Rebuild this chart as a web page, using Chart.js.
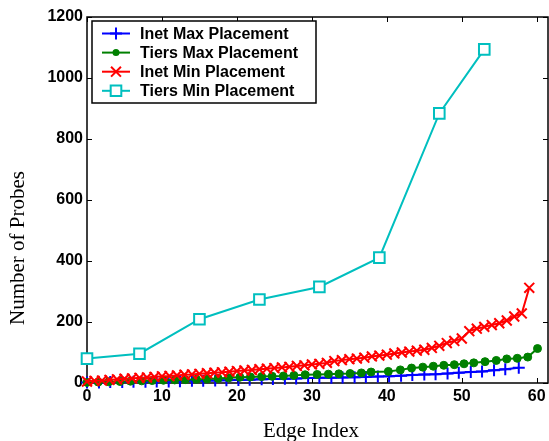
<!DOCTYPE html>
<html>
<head>
<meta charset="utf-8">
<script src="https://cdn.jsdelivr.net/npm/chart.js@4/dist/chart.umd.min.js"></script>
<style>
  body { margin: 0; background: #fff; }
  #wrap { width: 549px; height: 441px; }
</style>
</head>
<body>
<div id="wrap"><canvas id="probes" width="549" height="441"></canvas></div>
<script>
// series labels
const seriesNames = ['Inet Max Placement', 'Tiers Max Placement', 'Inet Min Placement', 'Tiers Min Placement'];

// Inet Max Placement (blue +)
const inetMaxX = [0, 1.6, 3.1, 4.7, 6.2, 7.8, 9.3, 10.9, 12.4, 14, 15.5, 17.1, 18.6, 20.2, 21.7, 23.3, 24.8, 26.4, 27.9, 29.5,
  31, 32.6, 34.1, 35.7, 37.2, 38.8, 40.3, 41.9, 43.4, 45, 46.5, 48.1, 49.6, 51.2, 52.7, 54.3, 55.8, 57.6];
const inetMaxY = [2, 2, 3, 3, 4, 4, 5, 5, 6, 7, 7, 8, 9, 10, 11, 12, 13, 14, 15, 16,
  17, 17, 18, 19, 20, 21, 22, 24, 26, 28, 29, 31, 34, 36, 38, 42, 45, 50];

// Tiers Max Placement (green dots)
const tiersMaxX = [0, 1.5, 2.9, 4.4, 5.8, 7.3, 8.7, 10.2, 11.7, 13.1, 14.6, 16, 17.5, 18.9, 20.4, 21.8, 23.3, 24.7, 26.2, 27.6,
  29.1, 30.7, 32.2, 33.6, 35.1, 36.6, 37.9, 40.2, 41.8, 43.3, 44.8, 46.2, 47.6, 49, 50.3, 51.6, 53.1, 54.6, 56, 57.4, 58.8, 60.1];
const tiersMaxY = [2, 3, 4, 5, 6, 7, 8, 9, 10, 11, 12, 13, 15, 17, 19, 20, 21, 22, 23, 25,
  27, 28, 29, 30, 31, 33, 36, 38, 43, 49, 52, 55, 58, 60, 63, 66, 70, 74, 79, 81, 85, 113];

// Inet Min Placement (red x)
const inetMinX = [0, 1, 2, 3, 4, 5, 6, 7, 8, 9, 10, 11, 12, 13, 14, 15, 16, 17, 18, 19,
  20, 21, 22, 23, 24, 25, 26, 27, 28, 29, 30, 31, 32, 33, 34, 35, 36, 37, 38, 39,
  40, 41, 42, 43, 44, 45, 46, 47, 48, 49, 50, 51, 52, 53, 54, 55, 56, 57, 58, 59];
const inetMinY = [5, 7, 8, 10, 12, 14, 15, 17, 18, 20, 22, 23, 25, 27, 28, 30, 32, 34, 35, 37,
  39, 41, 43, 45, 47, 49, 51, 53, 56, 58, 61, 63, 66, 72, 75, 78, 80, 83, 87, 90,
  93, 97, 100, 103, 106, 109, 115, 122, 131, 138, 146, 170, 178, 184, 190, 196, 205, 218, 228, 312];

// Tiers Min Placement (cyan squares)
const tiersMinX = [0, 7, 15, 23, 31, 39, 47, 53];
const tiersMinY = [80, 96, 209, 274, 315, 411, 884, 1094];

// axis ticks
const xTickValues = [0, 10, 20, 30, 40, 50, 60];
const yTickValues = [0, 200, 400, 600, 800, 1000, 1200];

const toPoints = (xs, ys) => xs.map((x, i) => ({ x: x, y: ys[i] }));

const tickFont = { family: "'Liberation Sans', Arial, sans-serif", size: 16, weight: 'bold' };
const titleFont = "21px 'Liberation Serif', 'Times New Roman', serif";

// box, inward ticks, axis titles and a matlab-like legend
const matlabFrame = {
  id: 'matlabFrame',
  beforeDatasetsDraw(chart) {
    const { ctx, chartArea: a, scales } = chart;
    ctx.save();
    ctx.strokeStyle = '#000';
    ctx.lineWidth = 1.5;
    ctx.strokeRect(a.left, a.top, a.right - a.left, a.bottom - a.top);
    ctx.lineWidth = 1;
    ctx.beginPath();
    xTickValues.forEach(v => {
      const px = Math.round(scales.x.getPixelForValue(v)) + 0.5;
      ctx.moveTo(px, a.bottom); ctx.lineTo(px, a.bottom - 5);
      ctx.moveTo(px, a.top); ctx.lineTo(px, a.top + 5);
    });
    yTickValues.forEach(v => {
      const py = Math.round(scales.y.getPixelForValue(v)) + 0.5;
      ctx.moveTo(a.left, py); ctx.lineTo(a.left + 5, py);
      ctx.moveTo(a.right, py); ctx.lineTo(a.right - 5, py);
    });
    ctx.stroke();

    // axis titles
    ctx.fillStyle = '#000';
    ctx.font = titleFont;
    ctx.textAlign = 'center';
    ctx.textBaseline = 'middle';
    ctx.fillText('Edge Index', 311, 431);
    ctx.translate(18, 248);
    ctx.rotate(-Math.PI / 2);
    ctx.fillText('Number of Probes', 0, 0);
    ctx.restore();
  },
  afterDatasetsDraw(chart) {
    const { ctx } = chart;
    ctx.save();
    ctx.fillStyle = '#fff';
    ctx.fillRect(92, 21, 224, 82);
    ctx.strokeStyle = '#000';
    ctx.lineWidth = 1.5;
    ctx.strokeRect(92, 21, 224, 82);
    chart.data.datasets.forEach((ds, i) => {
      const y = 33.5 + i * 19.1;
      ctx.strokeStyle = ds.borderColor;
      ctx.lineWidth = 2;
      ctx.beginPath();
      ctx.moveTo(102, y); ctx.lineTo(130, y);
      ctx.stroke();
      ctx.fillStyle = ds.pointBackgroundColor;
      ctx.strokeStyle = ds.borderColor;
      Chart.helpers.drawPoint(ctx, {
        pointStyle: ds.pointStyle,
        radius: ds.pointStyle === 'circle' ? 2.5 : ds.pointRadius,
        rotation: 0,
        borderWidth: ds.pointBorderWidth
      }, 116, y);
      ctx.fillStyle = '#000';
      ctx.font = "bold 16px 'Liberation Sans', Arial, sans-serif";
      ctx.textAlign = 'left';
      ctx.textBaseline = 'middle';
      ctx.fillText(ds.label, 140, y + 1);
    });
    ctx.restore();
  }
};

const ctx = document.getElementById('probes').getContext('2d');

new Chart(ctx, {
  type: 'scatter',
  data: {
    datasets: [{
      label: seriesNames[0],
      data: toPoints(inetMaxX, inetMaxY),
      showLine: true,
      borderColor: '#0000ff',
      pointBackgroundColor: '#0000ff',
      borderWidth: 2,
      pointStyle: 'cross',
      pointRadius: 6,
      pointBorderWidth: 2,
      order: 4,
      clip: false,
    }, {
      label: seriesNames[1],
      data: toPoints(tiersMaxX, tiersMaxY),
      showLine: true,
      borderColor: '#008000',
      pointBackgroundColor: '#008000',
      borderWidth: 2,
      pointStyle: 'circle',
      pointRadius: 4,
      pointBorderWidth: 1,
      order: 3,
      clip: false,
    }, {
      label: seriesNames[2],
      data: toPoints(inetMinX, inetMinY),
      showLine: true,
      borderColor: '#ff0000',
      pointBackgroundColor: '#ff0000',
      borderWidth: 2,
      pointStyle: 'crossRot',
      pointRadius: 7,
      pointBorderWidth: 2,
      order: 2,
      clip: false,
    }, {
      label: seriesNames[3],
      data: toPoints(tiersMinX, tiersMinY),
      showLine: true,
      borderColor: '#00bfbf',
      pointBackgroundColor: '#ffffff',
      borderWidth: 2,
      pointStyle: 'rect',
      pointRadius: 7.5,
      pointBorderWidth: 2,
      order: 1,
      clip: false,
    }]
  },
  options: {
    responsive: false,
    animation: false,
    devicePixelRatio: 1,
    layout: { autoPadding: false, padding: { top: 17, right: 1, left: 0, bottom: 0 } },
    plugins: { legend: { display: false }, tooltip: { enabled: false } },
    scales: {
      x: {
        type: 'linear',
        min: 0,
        max: 61.5,
        afterFit: s => { s.height = 58; s.paddingLeft = 0; s.paddingRight = 0; },
        grid: { display: false, drawTicks: false },
        border: { display: false },
        ticks: { stepSize: 10, includeBounds: false, padding: 4, color: '#000', font: tickFont,
          callback: v => String(v) },
      },
      y: {
        min: 0,
        max: 1200,
        afterFit: s => { s.width = 87; s.paddingTop = 0; s.paddingBottom = 0; },
        grid: { display: false, drawTicks: false },
        border: { display: false },
        ticks: { stepSize: 200, padding: 4, color: '#000', font: tickFont,
          callback: v => String(v) },
      },
    },
  },
  plugins: [matlabFrame],
});
</script>
</body>
</html>
